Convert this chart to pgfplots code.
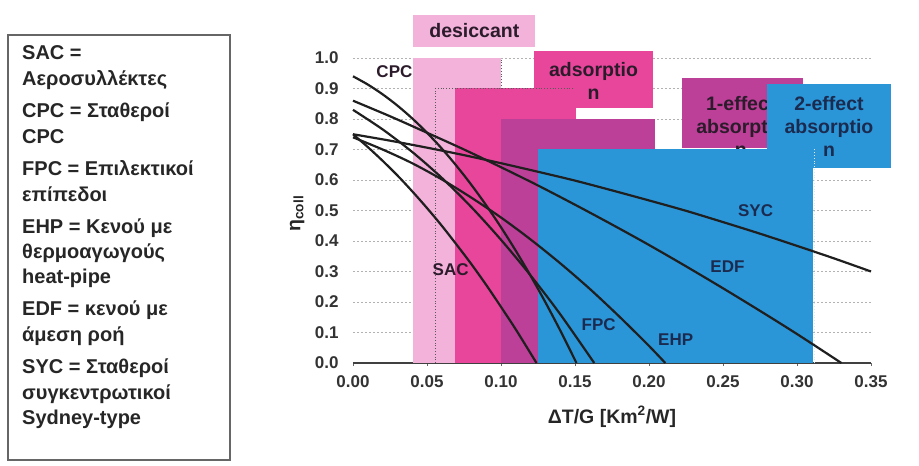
\documentclass[border=0pt]{standalone}
\usepackage{pgfplots}
\pgfplotsset{compat=1.18}
\usepackage{fontspec}
\setmainfont{Liberation Sans}
\definecolor{desic}{HTML}{F2B2DA}
\definecolor{adsor}{HTML}{E8469B}
\definecolor{oneeff}{HTML}{BC3F98}
\definecolor{twoeff}{HTML}{2A96D8}
\definecolor{lbl}{HTML}{2B1B2B}
\definecolor{navy}{HTML}{1B2B50}
\newcommand\legfont{\fontsize{20}{24}\selectfont\bfseries}
\newcommand\boxfont{\fontsize{19.5}{23}\selectfont\bfseries}
\newcommand\curvefont{\fontsize{17}{20}\selectfont\bfseries}
\begin{document}
\begin{tikzpicture}[x=1pt,y=1pt]
\useasboundingbox (-353,-103) rectangle (566,363);
\begin{axis}[
  at={(0,0)}, anchor=south west,
  scale only axis, width=518pt, height=305pt,
  xmin=0, xmax=0.35, ymin=0, ymax=1,
  clip=false,
  axis x line=bottom, axis y line=left,
  axis line style={-},
  y axis line style={draw=none},
  x axis line style={draw=black!75, line width=1.2pt},
  xtick={0,0.05,0.10,0.15,0.20,0.25,0.30,0.35},
  ytick={0,0.1,0.2,0.3,0.4,0.5,0.6,0.7,0.8,0.9,1.0},
  ymajorgrids,
  major grid style={gray!60, dash pattern=on 2pt off 2pt, line width=0.8pt},
  ytick style={draw=none},
  xtick style={draw=black!60, line width=0.8pt},
  tick align=outside, major tick length=3pt,
  /pgf/number format/assume math mode=true,
  tick label style={font=\fontsize{17}{20}\selectfont\bfseries, text=black!80},
  x tick label style={/pgf/number format/fixed, /pgf/number format/fixed zerofill, /pgf/number format/precision=2, yshift=-6pt},
  y tick label style={/pgf/number format/fixed, /pgf/number format/fixed zerofill, /pgf/number format/precision=1, xshift=-8pt},
  xlabel={ΔT/G [Km\textsuperscript{2}/W]},
  xlabel style={font=\fontsize{19.5}{22}\selectfont\bfseries, text=black!85, at={(axis description cs:0.5,-0.177)}, anchor=center},
  ylabel={η\textsubscript{coll}},
  ylabel style={font=\fontsize{19.5}{22}\selectfont\bfseries, text=black!85, at={(axis description cs:-0.108,0.49)}, anchor=center},
]
% desiccant
\addplot[fill=desic, draw=none] coordinates {(0.0405,0) (0.0405,1.0) (0.10,1.0) (0.10,0)} -- cycle;
\addplot[fill=desic, draw=none] coordinates {(0.0405,1.036) (0.0405,1.141) (0.123,1.141) (0.123,1.036)} -- cycle;
\node[font=\boxfont, text=lbl] at (axis cs:0.082,1.089) {desiccant};
% adsorption
\addplot[fill=adsor, draw=none] coordinates {(0.069,0) (0.069,0.9) (0.151,0.9) (0.151,0)} -- cycle;
\addplot[fill=adsor, draw=none] coordinates {(0.122,0.836) (0.122,1.023) (0.203,1.023) (0.203,0.836)} -- cycle;
\node[font=\boxfont, text=lbl, align=center] at (axis cs:0.1625,0.925) {adsorptio\\n};
% 1-effect absorption
\addplot[fill=oneeff, draw=none] coordinates {(0.10,0) (0.10,0.8) (0.204,0.8) (0.204,0)} -- cycle;
\addplot[fill=oneeff, draw=none] coordinates {(0.222,0.705) (0.222,0.934) (0.304,0.934) (0.304,0.705)} -- cycle;
\node[font=\boxfont, text=lbl, align=center] at (axis cs:0.262,0.776) {1-effect\\absorptio\\n};
% 2-effect absorption
\addplot[fill=twoeff, draw=none] coordinates {(0.125,0) (0.125,0.7) (0.311,0.7) (0.311,0)} -- cycle;
\addplot[fill=twoeff, draw=none] coordinates {(0.280,0.64) (0.280,0.915) (0.3635,0.915) (0.3635,0.64)} -- cycle;
\node[font=\boxfont, text=navy, align=center] at (axis cs:0.3216,0.776) {2-effect\\absorptio\\n};
% dotted outlines
\addplot[gray!70!black, dotted, line width=0.8pt] coordinates {(0.0555,0) (0.0555,0.9) (0.15,0.9)};
\addplot[gray!70!black, dotted, line width=0.8pt] coordinates {(0.10,0.9) (0.10,1.0)};
\addplot[white!80!gray, dotted, line width=0.8pt] coordinates {(0.312,0) (0.312,0.7)};
% curves
\addplot[line width=2.2pt, draw=black!88, smooth] coordinates {(0,0.94) (0.01,0.913) (0.02,0.881) (0.03,0.844) (0.04,0.802) (0.05,0.755) (0.06,0.703) (0.07,0.646) (0.08,0.584) (0.09,0.517) (0.10,0.445) (0.11,0.368) (0.12,0.286) (0.13,0.199) (0.14,0.107) (0.151,0)};
\addplot[line width=2.2pt, draw=black!88, smooth] coordinates {(0,0.83) (0.02,0.766) (0.04,0.692) (0.06,0.607) (0.08,0.511) (0.10,0.404) (0.12,0.287) (0.14,0.160) (0.163,0)};
\addplot[line width=2.2pt, draw=black!88, smooth] coordinates {(0,0.74) (0.02,0.70) (0.04,0.655) (0.06,0.602) (0.08,0.542) (0.10,0.477) (0.12,0.405) (0.14,0.327) (0.16,0.243) (0.18,0.152) (0.20,0.056) (0.211,0)};
\addplot[line width=2.2pt, draw=black!88, smooth] coordinates {(0,0.75) (0.01,0.708) (0.02,0.663) (0.03,0.615) (0.04,0.563) (0.05,0.508) (0.06,0.450) (0.07,0.388) (0.08,0.324) (0.09,0.256) (0.10,0.184) (0.11,0.110) (0.124,0)};
\addplot[line width=2.2pt, draw=black!88, smooth] coordinates {(0,0.86) (0.025,0.809) (0.05,0.755) (0.075,0.700) (0.1,0.642) (0.125,0.582) (0.15,0.519) (0.175,0.454) (0.2,0.387) (0.225,0.317) (0.25,0.245) (0.275,0.171) (0.3,0.095) (0.33,0)};
\addplot[line width=2.2pt, draw=black!88, smooth] coordinates {(0,0.75) (0.025,0.729) (0.05,0.706) (0.075,0.6815) (0.1,0.655) (0.125,0.627) (0.15,0.598) (0.175,0.566) (0.2,0.533) (0.225,0.499) (0.25,0.462) (0.275,0.424) (0.3,0.384) (0.325,0.343) (0.35,0.300)};
% curve labels
\node[font=\curvefont, text=lbl] at (axis cs:0.028,0.954) {CPC};
\node[font=\curvefont, text=lbl] at (axis cs:0.066,0.305) {SAC};
\node[font=\curvefont, text=navy] at (axis cs:0.166,0.125) {FPC};
\node[font=\curvefont, text=navy] at (axis cs:0.218,0.075) {EHP};
\node[font=\curvefont, text=navy] at (axis cs:0.253,0.315) {EDF};
\node[font=\curvefont, text=navy] at (axis cs:0.272,0.50) {SYC};
\end{axis}
% legend box
\draw[gray!80!black, line width=1.2pt] (-345,328) rectangle (-123,-97);
\begin{scope}[every node/.style={anchor=base west, font=\legfont, text=black!85, inner sep=0pt}]
\node at (-331,303) {SAC =};
\node at (-331,277) {Αεροσυλλέκτες};
\node at (-331,245) {CPC = Σταθεροί};
\node at (-331,219) {CPC};
\node at (-331,187) {FPC = Επιλεκτικοί};
\node at (-331,161) {επίπεδοι};
\node at (-331,129) {EHP = Κενού με};
\node at (-331,104) {θερμοαγωγούς};
\node at (-331,79) {heat-pipe};
\node at (-331,47) {EDF = κενού με};
\node at (-331,21) {άμεση ροή};
\node at (-331,-11) {SYC = Σταθεροί};
\node at (-331,-36) {συγκεντρωτικοί};
\node at (-331,-61) {Sydney-type};
\end{scope}
\end{tikzpicture}
\end{document}
